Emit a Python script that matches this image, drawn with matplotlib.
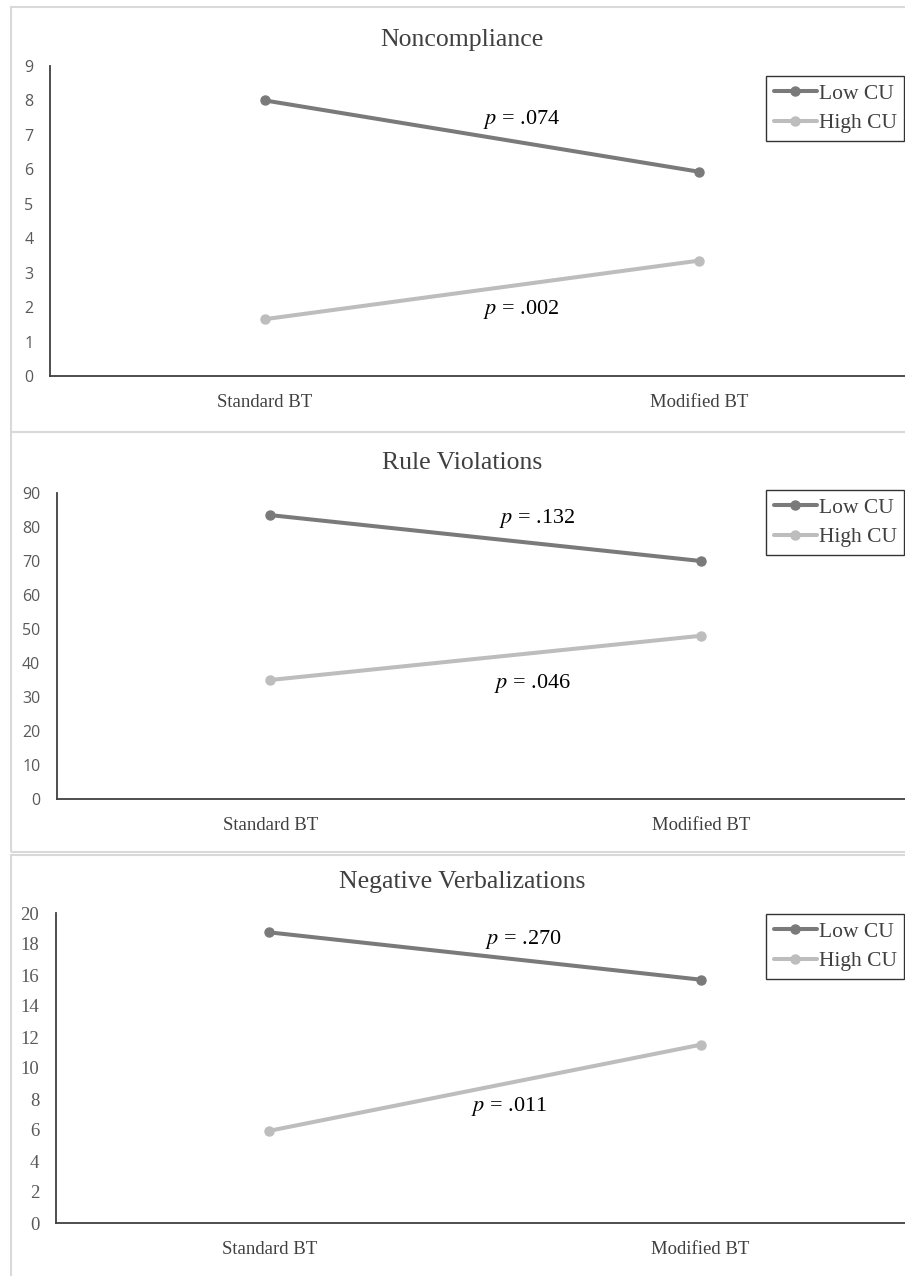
import matplotlib
matplotlib.use("Agg")
import matplotlib.pyplot as plt
from matplotlib.patches import Rectangle

# ---- data ----
conditions = ["Standard BT", "Modified BT"]
series_names = ["Low CU", "High CU"]

titles = ["Noncompliance", "Rule Violations", "Negative Verbalizations"]
low_cu = [[8.0, 5.93], [83.5, 70.0], [18.75, 15.7]]
high_cu = [[1.65, 3.35], [35.0, 48.0], [5.95, 11.5]]
y_max = [9, 90, 20]
y_step = [1, 10, 2]
p_low = ["= .074", "= .132", "= .270"]
p_high = ["= .002", "= .046", "= .011"]
p_low_pos = [(0.59, 7.45), (0.62, 82.6), (0.59, 18.3)]
p_high_pos = [(0.59, 1.92), (0.61, 34.1), (0.555, 7.5)]

W, H = 905, 1276
fig = plt.figure(figsize=(W / 100, H / 100), dpi=100)

SERIF = ["Liberation Serif", "DejaVu Serif"]
SANS = ["Open Sans", "DejaVu Sans"]
c_low = "#7a7a7a"
c_high = "#bdbdbd"

# panel layout in pixels: (frame_top, frame_bottom, title_y, axis_left, y_top_px, y0_px, legend_top)
layout = [
    (7, 432, 40, 50, 66, 376, 76),
    (432, 852, 463, 57, 493, 799, 490),
    (855, 1290, 882, 56, 913, 1223, 914),
]

for i, (ft, fb, ty, axl, ytp, y0p, lt) in enumerate(layout):
    # chart area frame
    fig.patches.append(Rectangle((11 / W, 1 - fb / H), (W + 20) / W, (fb - ft) / H,
                                 transform=fig.transFigure, fill=False,
                                 edgecolor="#d9d9d9", linewidth=1.5))
    axr = 914
    ax = fig.add_axes([axl / W, 1 - y0p / H, (axr - axl) / W, (y0p - ytp) / H])
    x = [0, 1]
    l1, = ax.plot(x, low_cu[i], color=c_low, lw=2.9, marker="o", ms=6.5,
                  solid_capstyle="round", label=series_names[0])
    l2, = ax.plot(x, high_cu[i], color=c_high, lw=2.9, marker="o", ms=6.5,
                  solid_capstyle="round", label=series_names[1])
    ax.set_xlim(-0.495, 1.495)
    ax.set_ylim(0, y_max[i])
    ax.set_yticks(range(0, y_max[i] + 1, y_step[i]))
    ax.set_xticks(x)
    ax.set_xticklabels(conditions, family=SERIF, fontsize=13.5, color="#404040")
    for lab in ax.get_yticklabels():
        if i < 2:
            lab.set_family(SANS)
            lab.set_fontsize(11.5)
        else:
            lab.set_family(SERIF)
            lab.set_fontsize(13.5)
        lab.set_color("#595959")
    ax.tick_params(axis="both", length=0)
    ax.tick_params(axis="y", pad=12)
    ax.tick_params(axis="x", pad=13)
    for s in ["top", "right"]:
        ax.spines[s].set_visible(False)
    for s in ["left", "bottom"]:
        ax.spines[s].set_color("#404040")
        ax.spines[s].set_linewidth(1.3)
    ax.patch.set_alpha(0)

    fig.text(462 / W, 1 - ty / H, titles[i], ha="center", va="center",
             family=SERIF, fontsize=18.5, color="#404040")

    for pos, txt in ((p_low_pos[i], p_low[i]), (p_high_pos[i], p_high[i])):
        ax.text(pos[0], pos[1], r"$\it{p}$ " + txt, ha="center", va="center",
                family=SERIF, fontsize=16, color="black",
                math_fontfamily="stix")

    leg = ax.legend(handles=[l1, l2], loc="upper left",
                    bbox_to_anchor=(766 / W, 1 - lt / H),
                    bbox_transform=fig.transFigure, borderaxespad=0,
                    frameon=True, fancybox=False, handlelength=2.0,
                    handletextpad=0.1, borderpad=0.35, labelspacing=0.45,
                    prop={"family": SERIF, "size": 15.5})
    leg.get_frame().set_edgecolor("black")
    leg.get_frame().set_linewidth(1.0)
    for t in leg.get_texts():
        t.set_color("#404040")

fig.savefig("out.png", dpi=100)
